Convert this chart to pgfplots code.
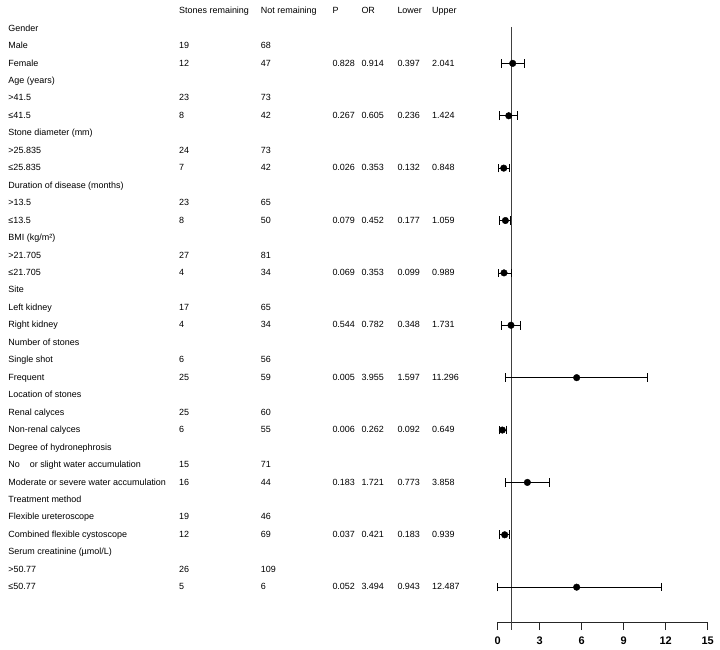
\documentclass[border=0pt]{standalone}
\usepackage{fontspec}
\setmainfont{Liberation Sans}
\usepackage{pgfplots}
\usepackage{pgfplotstable}
\pgfplotsset{compat=1.18}
\pgfplotstableread{
y x lo hi
-3 1.07 0.26 1.93
-6 0.79 0.14 1.38
-9 0.43 0.07 0.81
-12 0.55 0.14 0.91
-15 0.45 0.03 0.95
-18 0.95 0.26 1.64
-21 5.64 0.55 10.66
-24 0.33 0.10 0.62
-27 2.12 0.55 3.67
-30 0.50 0.14 0.86
-33 5.64 0.00 11.70
}\forestdata
\begin{document}
\begin{tikzpicture}
\path (0,0) rectangle (720bp,650bp);
\begin{axis}[at={(497.7bp,27.9bp)}, anchor=south west, scale only axis,
  width=210bp, height=595.1bp, xmin=0, xmax=15, ymin=-35, ymax=-0.916,
  axis x line*=bottom, axis y line=none, clip=false,
  xtick={0,3,6,9,12,15}, tick align=outside, major tick length=8bp,
  x axis line style={line width=1.2pt, black!85},
  every tick/.style={line width=1.1pt, black!85},
  /pgf/number format/assume math mode=true,
  xticklabel style={font=\fontsize{11}{12}\selectfont\bfseries, yshift=-3bp}]
\addplot[black!75, line width=1.1pt] coordinates {(1,-0.916) (1,-35.46)};
\addplot[only marks, mark=*, mark size=3.3bp, black,
  error bars/.cd, x dir=both, x explicit, error mark=|,
  error bar style={line width=0.8pt, black},
  error mark options={black, line width=0.8pt, mark size=4.3bp}]
  table[x=x, y=y, x error plus expr=\thisrow{hi}-\thisrow{x}, x error minus expr=\thisrow{x}-\thisrow{lo}] {\forestdata};
\end{axis}
\begin{scope}[x=1bp, y=-17.46bp, yshift=639bp, every node/.style={font=\fontsize{9}{10}\selectfont, inner sep=0pt, anchor=mid west}]
\node at (179,0) {Stones remaining};
\node at (260.7,0) {Not remaining};
\node at (332.3,0) {P};
\node at (361.3,0) {OR};
\node at (397.3,0) {Lower};
\node at (432,0) {Upper};
% labels
\foreach \r/\t in {1/Gender, 2/Male, 3/Female, 4/Age (years), 5/>41.5, 6/≤41.5,
  7/Stone diameter (mm), 8/>25.835, 9/≤25.835, 10/Duration of disease (months),
  11/>13.5, 12/≤13.5, 13/{BMI (kg/m²)}, 14/>21.705, 15/≤21.705, 16/Site,
  17/Left kidney, 18/Right kidney, 19/Number of stones, 20/Single shot,
  21/Frequent, 22/Location of stones, 23/Renal calyces, 24/Non-renal calyces,
  25/Degree of hydronephrosis, 26/No\hspace{1.1em}or slight water accumulation,
  27/Moderate or severe water accumulation, 28/Treatment method,
  29/Flexible ureteroscope, 30/Combined flexible cystoscope,
  31/{Serum creatinine (µmol/L)}, 32/>50.77, 33/≤50.77}
  {\node at (8.3,\r) {\t};}
% counts
\foreach \r/\a/\b in {2/19/68, 3/12/47, 5/23/73, 6/8/42, 8/24/73, 9/7/42,
  11/23/65, 12/8/50, 14/27/81, 15/4/34, 17/17/65, 18/4/34, 20/6/56, 21/25/59,
  23/25/60, 24/6/55, 26/15/71, 27/16/44, 29/19/46, 30/12/69, 32/26/109, 33/5/6}
  {\node at (179,\r) {\a}; \node at (260.7,\r) {\b};}
% stats
\foreach \r/\p/\o/\l/\u in {3/0.828/0.914/0.397/2.041, 6/0.267/0.605/0.236/1.424,
  9/0.026/0.353/0.132/0.848, 12/0.079/0.452/0.177/1.059, 15/0.069/0.353/0.099/0.989,
  18/0.544/0.782/0.348/1.731, 21/0.005/3.955/1.597/11.296, 24/0.006/0.262/0.092/0.649,
  27/0.183/1.721/0.773/3.858, 30/0.037/0.421/0.183/0.939, 33/0.052/3.494/0.943/12.487}
  {\node at (332.3,\r) {\p}; \node at (361.3,\r) {\o}; \node at (397.3,\r) {\l}; \node at (432,\r) {\u};}
\end{scope}
\end{tikzpicture}
\end{document}
